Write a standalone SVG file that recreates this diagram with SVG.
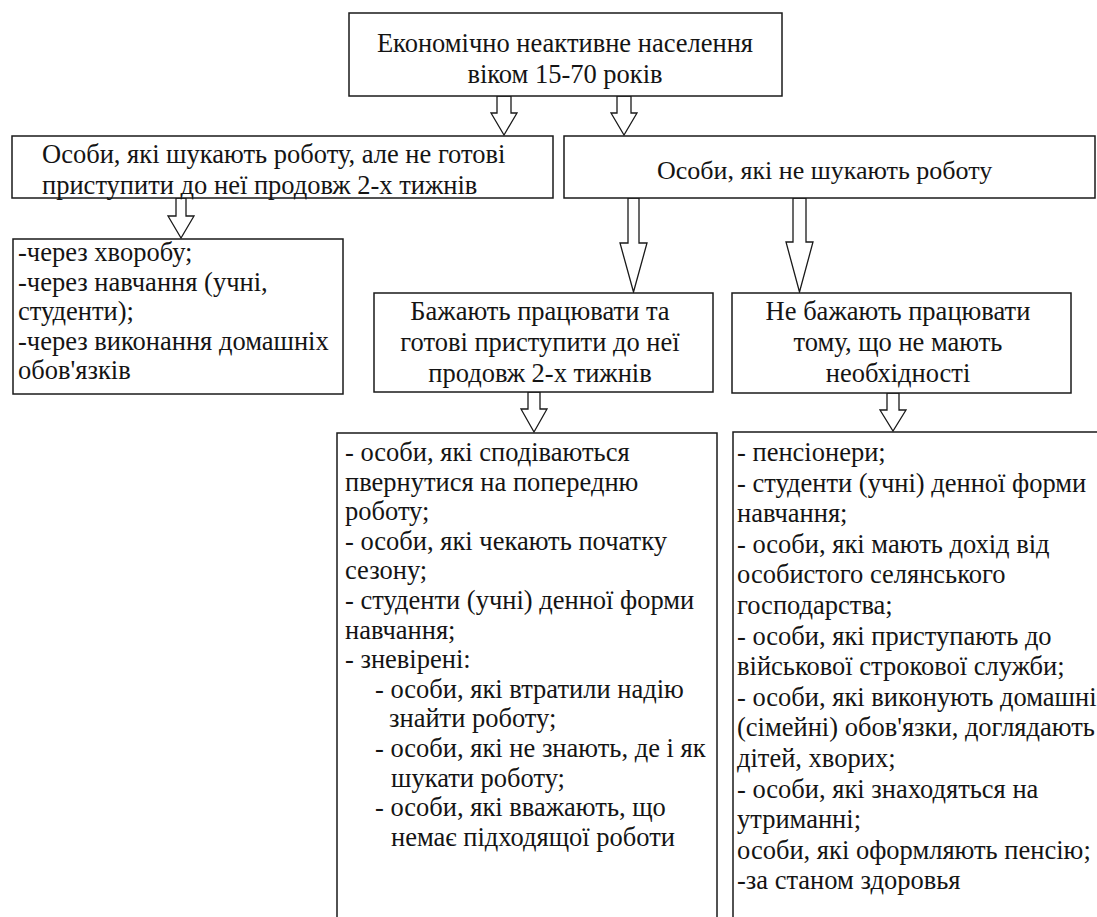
<svg xmlns="http://www.w3.org/2000/svg" width="1097" height="917" viewBox="0 0 1097 917">
<style>
.box{fill:#fff;stroke:#1a1a1a;stroke-width:1.5}
.arr{fill:#fff;stroke:#1a1a1a;stroke-width:1.3;stroke-linejoin:miter}
.t{font-size:26.5px;fill:#141414}
.c{text-anchor:middle}
</style>
<rect x="0" y="0" width="1097" height="917" fill="#fff"/>
<g id="connectors">
<polygon class="arr" points="497,96 511,96 511,113 517,113 504,135 491,113 497,113"/>
<polygon class="arr" points="617,96 631,96 631,113 637,113 624,135 611,113 617,113"/>
<polygon class="arr" points="176,198 186,198 186,216 194,216 181,238 168,216 176,216"/>
<polygon class="arr" points="628,198 639,198 639,243 647,243 633.5,292 620,243 628,243"/>
<polygon class="arr" points="793,198 806,198 806,242 813,242 799.5,292 786,242 793,242"/>
<polygon class="arr" points="528,392 540,392 540,409 547,409 534,432 521,409 528,409"/>
<polygon class="arr" points="887,393 899,393 899,410 906,410 893,431 880,410 887,410"/>
</g>
<g id="n1" class="t" font-family="'Liberation Serif', 'Times New Roman', serif">
<rect class="box" x="349" y="13" width="433" height="83"/>
<text class="c" x="565" y="52">Економічно неактивне населення</text>
<text class="c" x="565" y="83">віком 15-70 років</text>
</g>
<g id="n2" class="t" font-family="'Liberation Serif', 'Times New Roman', serif">
<rect class="box" x="12" y="136" width="541" height="62"/>
<text x="42" y="163">Особи, які шукають роботу, але не готові</text>
<text x="42" y="194">приступити до неї продовж 2-х тижнів</text>
</g>
<g id="n3" class="t" font-family="'Liberation Serif', 'Times New Roman', serif">
<rect class="box" x="564" y="136" width="531" height="62"/>
<text x="657" y="179" font-size="26">Особи, які не шукають роботу</text>
</g>
<g id="n4" class="t" font-family="'Liberation Serif', 'Times New Roman', serif">
<rect class="box" x="13" y="239" width="330" height="155"/>
<text x="18" y="261">-через хворобу;</text>
<text x="18" y="290.5">-через навчання (учні,</text>
<text x="18" y="320">студенти);</text>
<text x="18" y="349.5">-через виконання домашніх</text>
<text x="18" y="379">обов'язків</text>
</g>
<g id="n5" class="t" font-family="'Liberation Serif', 'Times New Roman', serif">
<rect class="box" x="374" y="293" width="339" height="99"/>
<text class="c" x="540" y="320">Бажають працювати та</text>
<text class="c" x="540" y="351">готові приступити до неї</text>
<text class="c" x="540" y="382">продовж 2-х тижнів</text>
</g>
<g id="n6" class="t" font-family="'Liberation Serif', 'Times New Roman', serif">
<rect class="box" x="732" y="293" width="339" height="100"/>
<text class="c" x="898" y="320">Не бажають працювати</text>
<text class="c" x="898" y="351">тому, що не мають</text>
<text class="c" x="898" y="382">необхідності</text>
</g>
<g id="n7" class="t" font-family="'Liberation Serif', 'Times New Roman', serif">
<rect class="box" x="337" y="433" width="380" height="500"/>
<text x="345" y="461">- особи, які сподіваються</text>
<text x="345" y="490.6">пвернутися на попередню</text>
<text x="345" y="520.2">роботу;</text>
<text x="345" y="549.8">- особи, які чекають початку</text>
<text x="345" y="579.4">сезону;</text>
<text x="345" y="609">- студенти (учні) денної форми</text>
<text x="345" y="638.6">навчання;</text>
<text x="345" y="668.2">- зневірені:</text>
<text x="375" y="697.8">- особи, які втратили надію</text>
<text x="389" y="727.4">знайти роботу;</text>
<text x="375" y="757">- особи, які не знають, де і як</text>
<text x="391" y="786.6">шукати роботу;</text>
<text x="375" y="816.2">- особи, які вважають, що</text>
<text x="391" y="845.8">немає підходящої роботи</text>
</g>
<g id="n8" class="t" font-family="'Liberation Serif', 'Times New Roman', serif">
<rect class="box" x="733" y="432" width="400" height="500"/>
<text x="737" y="461">- пенсіонери;</text>
<text x="737" y="491.6">- студенти (учні) денної форми</text>
<text x="737" y="522.2">навчання;</text>
<text x="737" y="552.8">- особи, які мають дохід від</text>
<text x="737" y="583.4">особистого селянського</text>
<text x="737" y="614">господарства;</text>
<text x="737" y="644.6">- особи, які приступають до</text>
<text x="737" y="675.2">військової строкової служби;</text>
<text x="737" y="705.8">- особи, які виконують домашні</text>
<text x="737" y="736.4">(сімейні) обов'язки, доглядають</text>
<text x="737" y="767">дітей, хворих;</text>
<text x="737" y="797.6">- особи, які знаходяться на</text>
<text x="737" y="828.2">утриманні;</text>
<text x="737" y="858.8">особи, які оформляють пенсію;</text>
<text x="737" y="889.4">-за станом здоровья</text>
</g>
</svg>
